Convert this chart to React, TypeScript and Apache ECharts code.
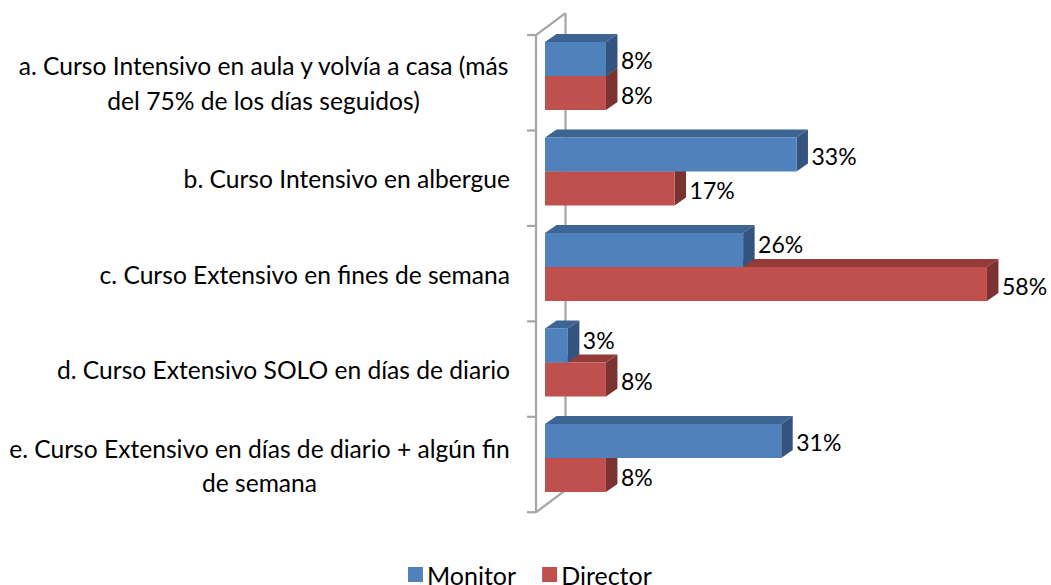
import React, { useEffect, useRef } from "react";
import * as echarts from "echarts";

const categories = [
  "a. Curso Intensivo en aula y volvía a casa (más\ndel 75% de los días seguidos)",
  "b. Curso Intensivo en albergue",
  "c. Curso Extensivo en fines de semana",
  "d. Curso Extensivo SOLO en días de diario",
  "e. Curso Extensivo en días de diario + algún fin\nde semana",
];
const monitorValues = [8, 33, 26, 3, 31];
const directorValues = [8, 17, 58, 8, 8];
const FONT = "Lato";
const LABEL_SIZE = 24.6;

const depthX = 11.5;
const depthY = 8;

function barRenderer(
  colors: { face: string; top: string; side: string },
  isUpper: boolean,
  rivals: number[]
) {
  return (_p: any, api: any) => {
    const value = api.value(0);
    const cat = api.value(1);
    const [xEnd, yC] = api.coord([value, cat]);
    const [x0] = api.coord([0, cat]);
    const h = api.size([0, 1])[1] * 0.357;
    const y0 = isUpper ? yC - h : yC;
    const y1 = y0 + h;
    // A label whose bar is shorter than the one below rides up, clear of the neighbour's top face.
    const lift = isUpper && rivals[cat] > value ? 7 : 0;
    return {
      type: "group",
      children: [
        {
          type: "polygon",
          shape: { points: [[x0, y0], [x0 + depthX, y0 - depthY], [xEnd + depthX, y0 - depthY], [xEnd, y0]] },
          style: { fill: colors.top },
        },
        {
          type: "polygon",
          shape: { points: [[xEnd, y0], [xEnd + depthX, y0 - depthY], [xEnd + depthX, y1 - depthY], [xEnd, y1]] },
          style: { fill: colors.side },
        },
        {
          type: "rect",
          shape: { x: x0, y: y0, width: xEnd - x0, height: h },
          style: { fill: colors.face },
        },
        {
          type: "text",
          x: xEnd + depthX + 3.5,
          y: (y0 + y1) / 2 + 1.5 - lift,
          style: {
            text: `${value}%`,
            fill: "#000",
            font: `23px ${FONT}`,
            textAlign: "left",
            textVerticalAlign: "middle",
          },
        },
      ],
    };
  };
}

function wallRenderer(_p: any, api: any) {
  const band = api.size([0, 1])[1];
  const [x0, yFirst] = api.coord([0, 0]);
  const [, yLast] = api.coord([0, categories.length - 1]);
  const left = x0 - 9;
  const top = yFirst - band / 2 + 6.8;
  const bottom = yLast + band / 2 + 6.5;
  const stroke = { stroke: "#a6a6a6", lineWidth: 2.2, fill: "none" };
  const step = (bottom - top) / categories.length;
  const ticks = Array.from({ length: categories.length + 1 }, (_, i) => ({
    type: "line",
    shape: { x1: left - 9, y1: top + i * step, x2: left, y2: top + i * step },
    style: stroke,
  }));
  return {
    type: "group",
    children: [
      {
        type: "polyline",
        shape: { points: [[left, bottom], [left, top], [left + 29.5, top - 22]] },
        style: stroke,
      },
      {
        type: "polyline",
        shape: { points: [[left, bottom], [left + 29.5, bottom - 22], [left + 29.5, top - 22]] },
        style: stroke,
      },
      ...ticks,
    ],
  };
}

export default function App() {
  const ref = useRef<HTMLDivElement>(null);
  useEffect(() => {
    const chart = echarts.init(ref.current!, undefined, { renderer: "svg" });
    chart.setOption({
      animation: false,
      backgroundColor: "#fff",
      grid: { left: 545, top: 28.25, width: 457.2, height: 477.5 },
      xAxis: { type: "value", min: 0, max: 60, show: false },
      yAxis: {
        type: "category",
        inverse: true,
        data: categories,
        axisLine: { show: false },
        axisTick: { show: false },
        axisLabel: {
          margin: 35,
          color: "#000",
          fontFamily: FONT,
          fontSize: LABEL_SIZE,
          lineHeight: 34,
          padding: [14, 0, 0, 0],
          formatter: (v: string, i: number) => {
            const lines = v.split("\n");
            if (lines.length === 1) return v;
            return lines.map((l) => `{${i === 0 ? "a" : "e"}|${l}}`).join("\n");
          },
          rich: {
            a: { width: 493, align: "center", fontFamily: FONT, fontSize: LABEL_SIZE, lineHeight: 34.5, color: "#000" },
            e: { width: 501, align: "center", fontFamily: FONT, fontSize: LABEL_SIZE, lineHeight: 34, color: "#000" },
          },
        },
      },
      legend: {
        data: ["Monitor", "Director"],
        left: 408,
        top: 562,
        itemWidth: 15,
        itemHeight: 15,
        itemGap: 26,
        icon: "rect",
        padding: 0,
        textStyle: { fontFamily: FONT, fontSize: 25, lineHeight: 20, height: 20, color: "#000", padding: [0, 0, 0, -1] },
      },
      series: [
        {
          type: "custom",
          name: "wall",
          renderItem: wallRenderer,
          data: [[0, 0]],
          encode: { x: 0, y: 1 },
          silent: true,
          clip: false,
        },
        {
          type: "custom",
          name: "Director",
          itemStyle: { color: "#c0504d" },
          renderItem: barRenderer({ face: "#c0504d", top: "#943b39", side: "#7b3331" }, false, monitorValues),
          data: directorValues.map((v, i) => [v, i]),
          encode: { x: 0, y: 1 },
          clip: false,
        },
        {
          type: "custom",
          name: "Monitor",
          itemStyle: { color: "#4f81bd" },
          renderItem: barRenderer({ face: "#4f81bd", top: "#3d6594", side: "#34547f" }, true, directorValues),
          data: monitorValues.map((v, i) => [v, i]),
          encode: { x: 0, y: 1 },
          clip: false,
        },
      ],
    });
    return () => chart.dispose();
  }, []);
  return <div ref={ref} style={{ position: "absolute", left: 0, top: 0, width: 1051, height: 585 }} />;
}
